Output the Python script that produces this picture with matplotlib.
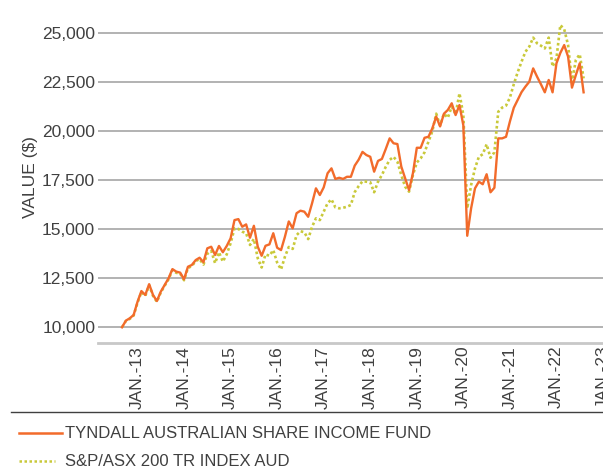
import numpy as np
import matplotlib
matplotlib.use('Agg')
import matplotlib.pyplot as plt
from matplotlib.lines import Line2D

plt.rcParams['font.family'] = ['Liberation Sans', 'DejaVu Sans']

# Monthly values, Sep 2012 - Aug 2022 (growth of $10,000)
fund = [10000, 10340, 10460, 10630, 11300, 11850, 11650, 12200, 11650, 11340,
        11820, 12160, 12500, 12970, 12840, 12790, 12450, 13090, 13180, 13430,
        13550, 13320, 14030, 14110, 13690, 14150, 13830, 14150, 14540, 15470,
        15520, 15130, 15250, 14570, 15180, 14110, 13650, 14160, 14230, 14800,
        14060, 13940, 14620, 15400, 15050, 15820, 15950, 15900, 15640, 16330,
        17090, 16750, 17140, 17860, 18110, 17570, 17630, 17570, 17680, 17680,
        18250, 18550, 18950, 18790, 18700, 17940, 18490, 18590, 19100, 19640,
        19390, 19350, 18200, 17600, 17000, 17860, 19160, 19160, 19670, 19720,
        20150, 20750, 20250, 20900, 21090, 21430, 20830, 21340, 20300, 14670,
        16070, 17090, 17430, 17300, 17810, 16890, 17120, 19640, 19640, 19720,
        20500, 21200, 21600, 22000, 22280, 22530, 23210, 22790, 22400, 21990,
        22620, 21990, 23470, 24000, 24400, 23810, 22230, 22870, 23470, 21990]

index = [10000, 10320, 10430, 10600, 11250, 11800, 11600, 12150, 11600, 11300,
         11780, 12120, 12450, 12920, 12780, 12740, 12400, 13030, 13120, 13380,
         13480, 13200, 13750, 13900, 13270, 13830, 13350, 13720, 14290, 15050,
         15020, 14880, 14800, 14200, 14510, 13520, 13050, 13720, 13650, 13940,
         13300, 12950, 13600, 14100, 14000, 14700, 14900, 14850, 14500, 15130,
         15560, 15470, 15900, 16330, 16530, 16120, 16070, 16100, 16150, 16240,
         16900, 17200, 17450, 17430, 17400, 16890, 17430, 17770, 18190, 18540,
         18700, 18450, 17770, 17170, 16920, 17770, 18410, 18620, 18930, 19470,
         20000, 20900, 20300, 20900, 20690, 21260, 20870, 21940, 20830, 16070,
         17260, 18110, 18700, 18830, 19340, 18650, 18930, 21000, 21210, 21310,
         21720, 22400, 23010, 23550, 24060, 24320, 24780, 24490, 24370, 24230,
         24780, 23300, 23720, 25420, 25210, 24400, 22500, 23640, 23930, 22700]

tick_labels = ['JAN.-13', 'JAN.-14', 'JAN.-15', 'JAN.-16', 'JAN.-17', 'JAN.-18',
               'JAN.-19', 'JAN.-20', 'JAN.-21', 'JAN.-22', 'JAN.-23']
tick_months = [4, 16, 28, 40, 52, 64, 76, 88, 100, 112, 124]
y_ticks = [10000, 12500, 15000, 17500, 20000, 22500, 25000]

fund_name = 'TYNDALL AUSTRALIAN SHARE INCOME FUND'
index_name = 'S&P/ASX 200 TR INDEX AUD'

orange = '#f26b2b'
olive = '#c9c93a'
text_col = '#404040'

W, H = 603, 470
fig = plt.figure(figsize=(W / 100, H / 100), dpi=100)
ax = fig.add_axes([98 / W, 1 - 343 / H, 1 - 98 / W, 343 / H])

x = np.arange(len(fund))
ax.plot(x, index, color=olive, lw=1.9, linestyle=(0, (1, 1)), zorder=2)
ax.plot(x, fund, color=orange, lw=1.7, zorder=3)

ax.set_xlim((98 - 122) / 3.88, (603 - 122) / 3.88)
ax.set_ylim(9199, 26700)

ax.set_yticks(y_ticks)
ax.set_yticklabels(['{:,}'.format(v) for v in y_ticks])
ax.set_xticks(tick_months)
ax.set_xticklabels(tick_labels, rotation=90)
ax.tick_params(axis='y', length=0, pad=2, labelsize=12.5, labelcolor=text_col)
ax.tick_params(axis='x', length=0, pad=2, labelsize=12.5, labelcolor=text_col)

ax.grid(axis='y', color='#a6a6a6', lw=1.2)
ax.set_axisbelow(True)
for s in ['top', 'right', 'left']:
    ax.spines[s].set_visible(False)
ax.spines['bottom'].set_color('#c8c8c8')
ax.spines['bottom'].set_linewidth(2)

fig.text(30 / W, 1 - 177 / H, 'VALUE ($)', rotation=90, ha='center', va='center',
         fontsize=12.5, color=text_col)

# separator line and legend underneath
fig.add_artist(Line2D([11 / W, 1], [1 - 412 / H] * 2, color='#404040', lw=1))
fig.add_artist(Line2D([19 / W, 62 / W], [1 - 433 / H] * 2, color=orange, lw=1.8))
fig.text(65 / W, 1 - 433 / H, fund_name, va='center', ha='left', fontsize=12, color=text_col)
fig.add_artist(Line2D([19 / W, 55 / W], [1 - 461 / H] * 2, color=olive, lw=1.8,
                      linestyle=(0, (1, 1))))
fig.text(65 / W, 1 - 461 / H, index_name, va='center', ha='left', fontsize=12, color=text_col)

fig.savefig('out.png', dpi=100)
